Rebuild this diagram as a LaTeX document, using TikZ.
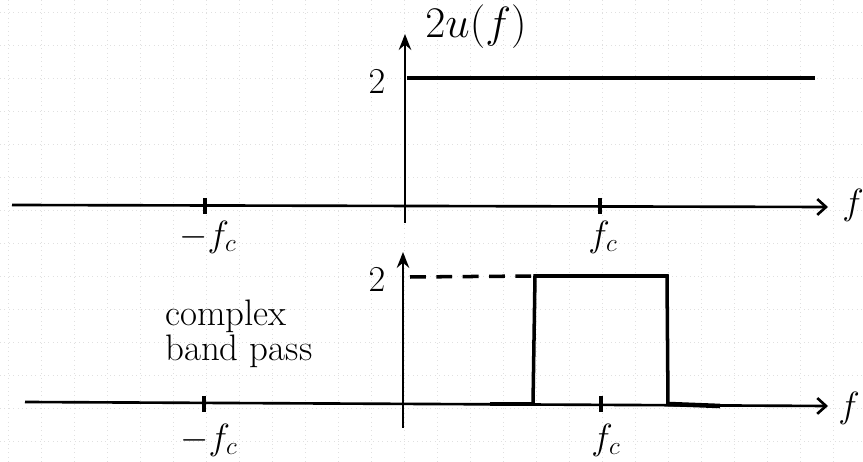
\documentclass[tikz,border=0pt]{standalone}
\usepackage{tikz}
\usetikzlibrary{arrows.meta}

\begin{document}
\begin{tikzpicture}[x=0.02cm, y=-0.02cm]
  \tikzset{
    gridln/.style={black!12, dotted, line width=0.5pt},
    faxis/.style={-{Straight Barb[length=5pt,width=9pt]}, line width=1.5pt},
    yaxis/.style={-{Stealth[length=9pt,width=7pt]}, line width=1.5pt},
    sig/.style={line width=2pt},
    foot/.style={line width=2.6pt},
    tck/.style={line width=2.4pt},
    lbl/.style={font=\fontsize{21}{24}\selectfont, inner sep=1pt},
    txt/.style={font=\fontsize{21}{20}\selectfont, align=left, inner sep=0pt}
  }
  \useasboundingbox (0,0) rectangle (863,462);
  % grid paper
  \foreach \gx in {8,41,...,863}
    \draw[gridln] (\gx,0) -- (\gx,462);
  \foreach \gy in {12,45,...,462}
    \draw[gridln] (0,\gy) -- (863,\gy);

  % Top: 2u(f)
  \coordinate (tl) at (12,205);
  \coordinate (tr) at (828,207);
  \coordinate (tb) at (405,223);
  \coordinate (tt) at (405,34);
  \coordinate (ua) at (407,78);
  \coordinate (ub) at (815,78);
  \draw[faxis] (tl) -- (tr);
  \draw[yaxis] (tb) -- (tt);
  \draw[sig] (ua) -- (ub);
  \node[lbl] (tf)  at (853,205) {$f$};
  \node[lbl, font=\fontsize{26}{28}\selectfont] (ttl) at (476,27) {$2u(f)$};
  \node[lbl] (tt2) at (377,82)  {$2$};
  \foreach \nm/\tx/\lb in {tm/205/-f_c, tp/600/f_c} {
    \draw[tck] (\tx,198) -- (\tx,214);
    \node[lbl] (\nm) at (\tx+3,237) {$\lb$};
  }

  % Bottom: complex band pass
  \coordinate (bl) at (25,402);
  \coordinate (br) at (828,406);
  \coordinate (bb) at (403,428);
  \coordinate (bt) at (403,252);
  \draw[faxis] (bl) -- (br);
  \draw[yaxis] (bb) -- (bt);
  \node[lbl] (bf)  at (849,408) {$f$};
  \node[lbl] (bt2) at (377,280) {$2$};
  \coordinate (p0) at (533,404);
  \coordinate (p1) at (535,276);
  \coordinate (p2) at (667,276);
  \coordinate (p3) at (668,404);
  \draw[sig] (p0) -- (p1) -- (p2) -- (p3);
  \draw[sig, dashed, dash pattern=on 9pt off 6pt] (410,277) -- (p1);
  \draw[foot] (490,404) -- (p0);
  \draw[foot] (p3) -- (720,406);
  \foreach \nm/\tx/\lb in {bm/204/-f_c, bp/601/f_c} {
    \draw[tck] (\tx,396) -- (\tx,412);
    \node[lbl] (\nm) at (\tx+5,440) {$\lb$};
  }
  \node[txt, anchor=west] (cbp) at (165,334) {complex\\band pass};
\end{tikzpicture}
\end{document}
